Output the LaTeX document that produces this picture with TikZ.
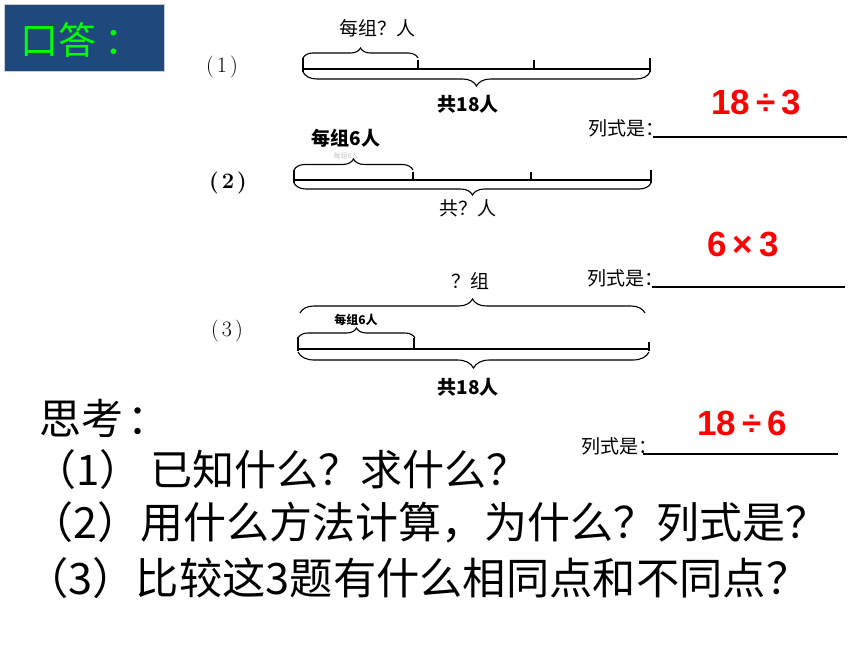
\documentclass[tikz,border=0pt]{standalone}
\usepackage{fontspec}
\usetikzlibrary{decorations.pathreplacing}
\newfontfamily\cjk{Noto Sans CJK SC}
\newfontfamily\arial{Liberation Sans}
\newcommand{\fsz}[1]{\fontsize{#1}{#1}\selectfont}
\definecolor{boxblue}{RGB}{31,73,125}
\definecolor{lime}{RGB}{0,255,0}
\tikzset{
  brc/.style={decorate, decoration={brace, amplitude=#1}, line width=1.1pt},
  bar/.style={line width=1.5pt},
  lbl/.style={inner sep=0pt, font=\cjk\fsz{19pt}},
  lblb/.style={inner sep=0pt, font=\cjk\bfseries\fsz{19pt}},
  ans/.style={inner sep=0pt, text=red, font=\arial\bfseries\fsz{35pt}},
  num/.style={inner sep=0pt, font=\fsz{22pt}},
  uline/.style={line width=2pt},
  big/.style={inner sep=0pt, anchor=west, font=\cjk\fsz{#1}}
}
\begin{document}
\begin{tikzpicture}[x=1pt,y=-1pt]
\useasboundingbox (0,0) rectangle (860,645);
\fill[white] (0,0) rectangle (860,645);
% title box
\draw[fill=boxblue, draw=gray!40, line width=0.8pt] (4,4) rectangle (164,71);
\node[big=38pt, text=lime] (title) at (20,40) {口答\hspace{8pt}：};
% labels (1)(2)(3)
\node[num] (n1) at (222,67) {(\hspace{3pt}1\hspace{3pt})};
\node[num, font=\bfseries\fsz{22pt}] (n2) at (228,183) {(\hspace{3pt}2\hspace{3pt})};
\node[num] (n3) at (227,331) {(\hspace{3pt}3\hspace{3pt})};
% ---------- diagram 1 ----------
\coordinate (a0) at (303,69); \coordinate (a1) at (418,69);
\coordinate (a2) at (534,69); \coordinate (a3) at (650,69);
\draw[bar] (a0) -- (a3);
\draw[bar] (303,58) -- (303,72);
\draw[bar] (a1) -- ++(0,-9);
\draw[bar] (a2) -- ++(0,-9);
\draw[bar] (650,58) -- (650,72);
\coordinate (b1s) at (303,58); \coordinate (b1e) at (418,58);
\draw[brc=10] (b1s) -- (b1e);
\coordinate (c1s) at (650,72); \coordinate (c1e) at (303,72);
\draw[brc=14] (c1s) -- (c1e);
\node[lbl] (t1) at (377,28) {每组？人};
\node[lblb] (s1) at (468,104) {共18人};
% ---------- diagram 2 ----------
\coordinate (d0) at (294,180); \coordinate (d1) at (413,180);
\coordinate (d2) at (531,180); \coordinate (d3) at (651,180);
\draw[bar] (d0) -- (d3);
\draw[bar] (294,170) -- (294,183);
\draw[bar] (d1) -- ++(0,-8);
\draw[bar] (d2) -- ++(0,-8);
\draw[bar] (651,170) -- (651,183);
\coordinate (b2s) at (294,170); \coordinate (b2e) at (413,170);
\draw[brc=11] (b2s) -- (b2e);
\coordinate (c2s) at (651,183); \coordinate (c2e) at (294,183);
\draw[brc=12] (c2s) -- (c2e);
\node[lblb] (t2) at (346,138) {每组6人};
\node[inner sep=0pt, text=gray!45, font=\cjk\fsz{7pt}] (g2) at (346,156) {每组6人};
\node[lbl] (s2) at (468,208) {共？人};
% ---------- diagram 3 ----------
\coordinate (e0) at (298,349); \coordinate (e1) at (414,349);
\coordinate (e3) at (649,349);
\draw[bar] (e0) -- (e3);
\draw[bar] (298,337) -- (298,351);
\draw[bar] (e1) -- ++(0,-11);
\draw[bar] (649,342) -- (649,351);
\coordinate (b3s) at (300,313); \coordinate (b3e) at (645,313);
\draw[brc=14] (b3s) -- (b3e);
\coordinate (b4s) at (298,338); \coordinate (b4e) at (415,338);
\draw[brc=10] (b4s) -- (b4e);
\coordinate (c3s) at (649,352); \coordinate (c3e) at (298,352);
\draw[brc=16] (c3s) -- (c3e);
\node[lbl] (t3) at (470,281) {？组};
\node[inner sep=0pt, font=\cjk\bfseries\fsz{12pt}] (t4) at (356,320) {每组6人};
\node[lblb] (s3) at (468,387) {共18人};
% ---------- answers ----------
\node[lbl, anchor=west] (L1) at (588,128) {列式是：};
\coordinate (u1s) at (653,137); \coordinate (u1e) at (847,137);
\draw[uline] (u1s) -- (u1e);
\node[ans] (A1) at (756,102) {18\,÷\,3};
\node[lbl, anchor=west] (L2) at (587,278) {列式是：};
\coordinate (u2s) at (652,287); \coordinate (u2e) at (845,287);
\draw[uline] (u2s) -- (u2e);
\node[ans] (A2) at (743,244) {6\,×\,3};
\node[lbl, anchor=west] (L3) at (581,446) {列式是：};
\coordinate (u3s) at (643,454); \coordinate (u3e) at (838,454);
\draw[uline] (u3s) -- (u3e);
\node[ans] (A3) at (742,423) {18\,÷\,6};
% ---------- think ----------
\node[big=42pt] (q0) at (39,418) {思考\hspace{4pt}：};
\node[big=42pt] (q1) at (34,470) {（1） 已知什么？求什么？};
\node[big=43pt] (q2) at (30,522) {（2）用什么方法计算，为什么？列式是？};
\node[big=43.3pt] (q3) at (25,578) {（3）比较这3题有什么相同点和不同点？};
\end{tikzpicture}
\end{document}
